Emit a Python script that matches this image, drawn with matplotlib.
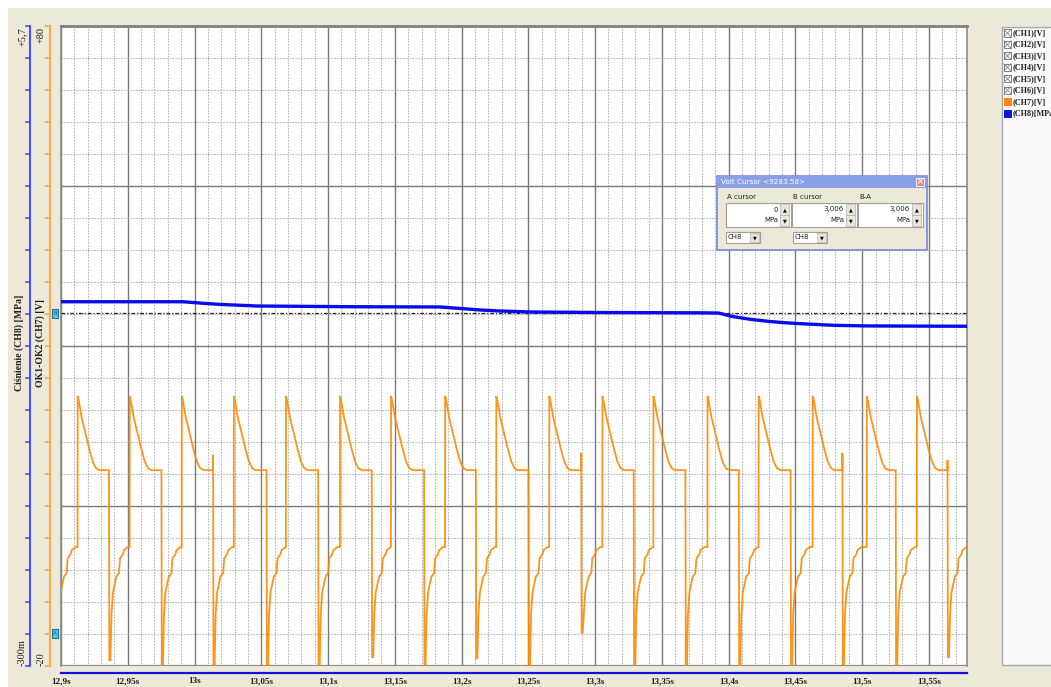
import matplotlib
matplotlib.use("Agg")
import matplotlib.pyplot as plt
from matplotlib.patches import Rectangle

W, H, DPI = 1051, 687, 100

# ---------------- data ----------------
x_tick_values = [12.9, 12.95, 13.0, 13.05, 13.1, 13.15, 13.2, 13.25, 13.3,
                 13.35, 13.4, 13.45, 13.5, 13.55]
x_tick_labels = ["12,9s", "12,95s", "13s", "13,05s", "13,1s", "13,15s", "13,2s",
                 "13,25s", "13,3s", "13,35s", "13,4s", "13,45s", "13,5s", "13,55s"]
x_limits = [12.9, 13.5785]

# CH8 pressure [MPa]
ch8_time = [12.9, 12.9911, 13.0039, 13.0189, 13.0339, 13.0466, 13.0789, 13.1186,
            13.1839, 13.1989, 13.2139, 13.2289, 13.2514, 13.3039, 13.3789, 13.3924,
            13.4036, 13.4164, 13.4291, 13.4411, 13.4539, 13.4786, 13.5041, 13.5785]
ch8_mpa = [3.115, 3.115, 3.103, 3.090, 3.082, 3.075, 3.072, 3.068,
           3.066, 3.052, 3.038, 3.028, 3.019, 3.014, 3.011, 3.009,
           2.975, 2.950, 2.932, 2.919, 2.909, 2.894, 2.888, 2.885]
cursor_a_mpa = 0.0
cursor_b_mpa = 3.006

# CH7 voltage [V]: per-cycle values
ch7_drop_time = [12.8967, 12.9359, 12.9752, 13.0139, 13.0539, 13.0926, 13.1327,
                 13.1719, 13.2107, 13.2501, 13.2896, 13.3289, 13.3676, 13.4076,
                 13.4464, 13.4852, 13.5251, 13.5639]
ch7_spike_min = [-20.5, -19.1, -20.5, -20.5, -20.5, -20.5, -18.6, -19.8, -18.8,
                 -20.5, -14.8, -20.5, -20.5, -20.5, -20.5, -19.8, -20.5, -18.6]
ch7_spike_top = [10.6, 10.6, 10.6, 13.0, 10.6, 10.6, 10.6, 10.6, 10.6,
                 10.6, 13.3, 10.6, 10.6, 10.6, 10.6, 13.3, 10.6, 12.2]
ch7_peak_time = [12.9124, 12.9514, 12.9904, 13.0294, 13.0684, 13.1089, 13.1471,
                 13.1876, 13.2259, 13.2656, 13.3054, 13.3436, 13.3841, 13.4224,
                 13.4629, 13.5034, 13.5409]
# shape of one pulse (read from a single cycle)
ch7_decay_dt = [0.0, 0.00075, 0.003, 0.0045, 0.0062, 0.0088, 0.0113, 0.0137, 0.0163]
ch7_decay_v = [22.2, 21.5, 18.8, 17.5, 16.0, 13.8, 11.9, 10.9, 10.6]
ch7_plateau_v = 10.6
ch7_recov_dt = [0.0011, 0.0019, 0.003, 0.0045, 0.0056, 0.0075, 0.0083, 0.0105, 0.0113, 0.0143]
ch7_recov_v = [None, -12.0, -8.5, -7.0, -6.0, -5.5, -3.2, -2.5, -1.9, -1.4]

legend_names = ["(CH1)[V]", "(CH2)[V]", "(CH3)[V]", "(CH4)[V]", "(CH5)[V]",
                "(CH6)[V]", "(CH7)[V]", "(CH8)[MPa]"]

# ---------------- build CH7 trace from the read values ----------------
t7, v7 = [], []
for i, td in enumerate(ch7_drop_time):
    if i > 0:
        t7 += [td, td]
        v7 += [ch7_plateau_v, ch7_spike_top[i]]
    nxt = ch7_peak_time[i] if i < len(ch7_peak_time) else x_limits[1] + 0.01
    t7.append(td + 0.0003)
    v7.append(ch7_spike_min[i])
    last = ch7_spike_min[i]
    for dt, vv in zip(ch7_recov_dt, ch7_recov_v):
        if vv is None:
            vv = ch7_spike_min[i]
        if td + dt < nxt:
            t7.append(td + dt)
            v7.append(vv)
            last = vv
    if i < len(ch7_peak_time):
        tp = ch7_peak_time[i]
        t7.append(tp)
        v7.append(last)
        for dt, vv in zip(ch7_decay_dt, ch7_decay_v):
            t7.append(tp + dt + 0.0001)
            v7.append(vv)
    else:
        t7.append(x_limits[1] + 0.01)
        v7.append(last)

# ---------------- figure ----------------
fig = plt.figure(figsize=(W / DPI, H / DPI), dpi=DPI)
fig.patch.set_facecolor("white")
BEIGE = "#ece9d8"


def fx(x):
    return x / W


def fy(y):
    return 1 - y / H


def frect(x0, y0, x1, y1, **kw):
    r = Rectangle((fx(x0), fy(y1)), fx(x1) - fx(x0), fy(y0) - fy(y1),
                  transform=fig.transFigure, **kw)
    fig.add_artist(r)
    return r


frect(8, 8, W + 2, H + 2, facecolor=BEIGE, edgecolor="none", zorder=0)

PL, PR, PT, PB = 61, 967, 26, 666
ax = fig.add_axes([fx(PL), fy(PB), fx(PR) - fx(PL), fy(PT) - fy(PB)])
ax.set_facecolor("white")
ax.set_xlim(*x_limits)
ax.set_ylim(-20, 80)

ax.set_xticks(x_tick_values)
ax.set_xticks([12.9 + 0.01 * k for k in range(68)], minor=True)
ax.set_yticks([-20, 5, 30, 55, 80])
ax.set_yticks(list(range(-20, 81, 5)), minor=True)
ax.tick_params(axis="both", which="both", length=0)
ax.tick_params(axis="y", labelleft=False)
ax.tick_params(axis="x", pad=3)
ax.grid(which="major", color="#7a7a7a", lw=1.0, ls="-")
ax.grid(which="minor", color="#939393", lw=0.8, ls=(0, (1, 1.7)))
ax.set_axisbelow(True)
for s in ["left", "right"]:
    ax.spines[s].set_color("#8a8a8a")
    ax.spines[s].set_linewidth(1.2)
ax.spines["top"].set_color("#808080")
ax.spines["top"].set_linewidth(2)
ax.spines["bottom"].set_position(("outward", 5))
ax.spines["bottom"].set_color("#1010e0")
ax.spines["bottom"].set_linewidth(1.6)
ax.axhline(-20, color="#8a8a8a", lw=1.6, zorder=1)

ax.plot(t7, v7, color="#ff8800", lw=1.3, alpha=0.9, zorder=3, solid_joinstyle="miter")

ax2 = ax.twinx()
ax2.set_ylim(-0.3, 5.7)
for s in ax2.spines.values():
    s.set_visible(False)
ax2.set_yticks([])
ax2.plot(ch8_time, ch8_mpa, color="#0a0af0", lw=2.4, zorder=4)
ax2.axhline(cursor_b_mpa, color="#222222", lw=0.9, ls=(0, (3, 1.5, 1, 1.5)), zorder=2)

ax.set_xticklabels(x_tick_labels)
for lbl in ax.get_xticklabels():
    lbl.set_fontfamily("Liberation Serif")
    lbl.set_fontweight("bold")
    lbl.set_fontsize(6.6)
    lbl.set_color("#202020")

# ---- left scales ----
def scale_axis(xpix, lo, hi, step_n, color):
    a = fig.add_axes([fx(xpix), fy(PB), 0.0001, fy(PT) - fy(PB)])
    a.set_ylim(lo, hi)
    a.patch.set_visible(False)
    for s in ["top", "right", "bottom"]:
        a.spines[s].set_visible(False)
    a.spines["left"].set_color(color)
    a.spines["left"].set_linewidth(1.5)
    a.set_xticks([])
    a.set_yticks([lo + (hi - lo) * k / step_n for k in range(step_n + 1)])
    a.tick_params(axis="y", length=3.5, width=1.2, color=color, labelleft=False,
                  direction="out")
    return a


scale_axis(30, -0.3, 5.7, 20, "#5050ff")
scale_axis(50, -20, 80, 20, "#ffa848")

tk = dict(family="Liberation Serif", fontsize=7.5, rotation=90, color="#202020")
fig.text(fx(22), fy(27), "+5,7", ha="center", va="top", **tk)
fig.text(fx(22), fy(666), "-300m", ha="center", va="bottom", **tk)
fig.text(fx(41), fy(27), "+80", ha="center", va="top", **tk)
fig.text(fx(41), fy(666), "-20", ha="center", va="bottom", **tk)
lab = dict(family="Liberation Serif", fontsize=7, fontweight="bold", rotation=90,
           color="#202020", ha="center", va="center")
fig.text(fx(19), fy(343), "Ciśnienie (CH8) [MPa]", **lab)
fig.text(fx(40), fy(343), "OK1-OK2 (CH7) [V]", **lab)

# cursor markers
for y0, letter in [(309, "B"), (629, "A")]:
    frect(52, y0, 58, y0 + 9, facecolor="#38d8d8", edgecolor="#2a6ab8", lw=0.8, zorder=5)
    fig.text(fx(55), fy(y0 + 4.5), letter, fontsize=4, color="#205050",
             ha="center", va="center", zorder=6)

# ---- Volt Cursor window ----
frect(717, 176, 927, 250, facecolor=BEIGE, edgecolor="#7088d8", lw=1.2, zorder=10)
frect(717, 176, 927, 188, facecolor="#8aa0e6", edgecolor="none", zorder=11)
fig.text(fx(721), fy(182.5), "Volt Cursor <9283.58>", fontsize=5.2, color="white",
         family="DejaVu Sans", ha="left", va="center", zorder=12)
frect(916, 178, 924, 186, facecolor="#e08a8a", edgecolor="white", lw=0.6, zorder=12)
fig.text(fx(920), fy(182), "×", fontsize=6, color="white", ha="center", va="center",
         zorder=13, fontweight="bold")
sans = dict(family="DejaVu Sans", fontsize=5.0, color="#202020", zorder=12)
for x0, name, val in [(726, "A cursor", "0"), (792, "B cursor", "3,006"), (858, "B-A", "3,006")]:
    fig.text(fx(x0 + 1), fy(197), name, ha="left", va="center", **sans)
    frect(x0, 203, x0 + 65, 227, facecolor="white", edgecolor="#a0a0a0", lw=0.8, zorder=11)
    fig.text(fx(x0 + 52), fy(209.5), val, ha="right", va="center", **sans)
    fig.text(fx(x0 + 52), fy(219.5), "MPa", ha="right", va="center", **sans)
    frect(x0 + 54, 204, x0 + 63, 215, facecolor="#e8e6dc", edgecolor="#b0b0b0", lw=0.5, zorder=12)
    frect(x0 + 54, 215, x0 + 63, 226, facecolor="#e8e6dc", edgecolor="#b0b0b0", lw=0.5, zorder=12)
    fig.text(fx(x0 + 58.5), fy(209.5), "▲", ha="center", va="center", fontsize=3.5,
             color="black", zorder=13)
    fig.text(fx(x0 + 58.5), fy(220.5), "▼", ha="center", va="center", fontsize=3.5,
             color="black", zorder=13)
for x0 in [726, 793]:
    frect(x0, 232, x0 + 34, 243, facecolor="white", edgecolor="#a0a0a0", lw=0.8, zorder=11)
    fig.text(fx(x0 + 2), fy(237.5), "CH8", ha="left", va="center", **sans)
    frect(x0 + 24, 233, x0 + 33, 242, facecolor="#e8e6dc", edgecolor="#b0b0b0", lw=0.5, zorder=12)
    fig.text(fx(x0 + 28.5), fy(237.5), "▼", ha="center", va="center", fontsize=3.5,
             color="black", zorder=13)

# ---- channel legend panel ----
frect(1002, 27, W + 5, 665, facecolor="#fafafa", edgecolor="#a8a8a8", lw=1.0, zorder=2)
for i, name in enumerate(legend_names):
    yc = 33 + 11.45 * i
    if i < 6:
        frect(1004, yc - 3.5, 1011, yc + 3.5, facecolor="white", edgecolor="#808080",
              lw=0.7, zorder=3)
        fig.add_artist(plt.Line2D([fx(1004), fx(1011)], [fy(yc - 3.5), fy(yc + 3.5)],
                                  transform=fig.transFigure, color="#808080", lw=0.6, zorder=4))
        fig.add_artist(plt.Line2D([fx(1004), fx(1011)], [fy(yc + 3.5), fy(yc - 3.5)],
                                  transform=fig.transFigure, color="#808080", lw=0.6, zorder=4))
    else:
        fc = "#ff8800" if i == 6 else "#1010e8"
        frect(1004, yc - 3.5, 1011, yc + 3.5, facecolor=fc, edgecolor=fc, lw=0.7, zorder=3)
    fig.text(fx(1013), fy(yc), name, family="Liberation Serif", fontweight="bold",
             fontsize=5.9, color="#202020", ha="left", va="center", zorder=4)

fig.savefig("out.png", dpi=DPI, facecolor=fig.get_facecolor())
